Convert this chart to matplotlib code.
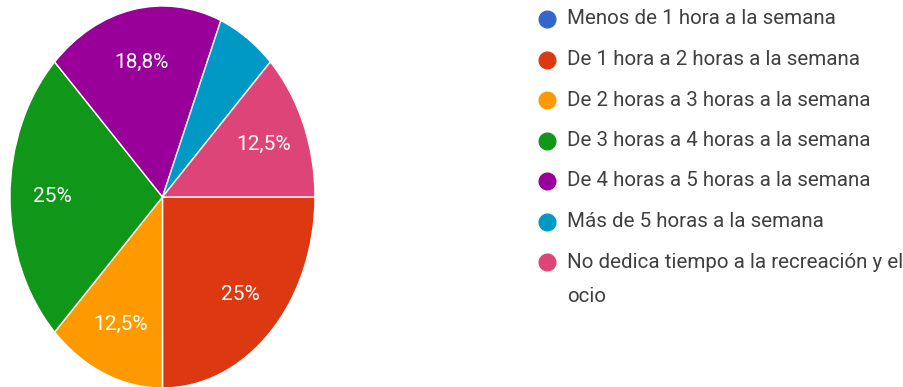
import matplotlib.pyplot as plt
from matplotlib.lines import Line2D

# Survey answers: hours per week spent on recreation and leisure
categories = [
    "Menos de 1 hora a la semana",
    "De 1 hora a 2 horas a la semana",
    "De 2 horas a 3 horas a la semana",
    "De 3 horas a 4 horas a la semana",
    "De 4 horas a 5 horas a la semana",
    "Más de 5 horas a la semana",
    "No dedica tiempo a la recreación y el\nocio",
]
counts = [0, 4, 2, 4, 3, 1, 2]
colors = ["#3366CC", "#DC3912", "#FF9900", "#109618",
          "#990099", "#0099C6", "#DD4477"]

W, H = 904, 387


def pct_label(pct):
    """Hide small slices, use comma decimals like the form summary"""
    if pct < 10:
        return ""
    if abs(pct - round(pct)) < 1e-9:
        return "%d%%" % round(pct)
    return ("%.1f%%" % pct).replace(".", ",")


plt.rcParams["font.family"] = ["Roboto", "DejaVu Sans"]

fig = plt.figure(figsize=(W / 100, H / 100), dpi=100)
ax = fig.add_axes([10 / W, -1 / H, 305 / W, 382 / H])

wedges, texts, autotexts = ax.pie(
    counts,
    colors=colors,
    startangle=0,
    counterclock=False,
    autopct=pct_label,
    pctdistance=0.72,
    wedgeprops=dict(edgecolor="white", linewidth=1.0),
    textprops=dict(color="white", fontsize=15),
)
# the chart is stretched vertically, so let the circle follow the axes box
ax.set_aspect("auto")
ax.set_xlim(-1.0, 1.0)
ax.set_ylim(-1.0, 1.0)

# legend drawn by hand so the wrapped last entry keeps its dot on the first line
row_top = 19
row_step = 40.5
wrap_step = 35
for i, (label, c) in enumerate(zip(categories, colors)):
    y_px = row_top + i * row_step
    fig.add_artist(Line2D([547 / W], [1 - y_px / H], transform=fig.transFigure,
                          marker="o", markersize=12, linestyle="none",
                          markerfacecolor=c, markeredgecolor=c))
    for k, line in enumerate(label.split("\n")):
        fig.text(567 / W, 1 - (y_px + k * wrap_step) / H, line,
                 fontsize=14.8, color="#404040", ha="left", va="center")

fig.savefig("out.png", dpi=100)
